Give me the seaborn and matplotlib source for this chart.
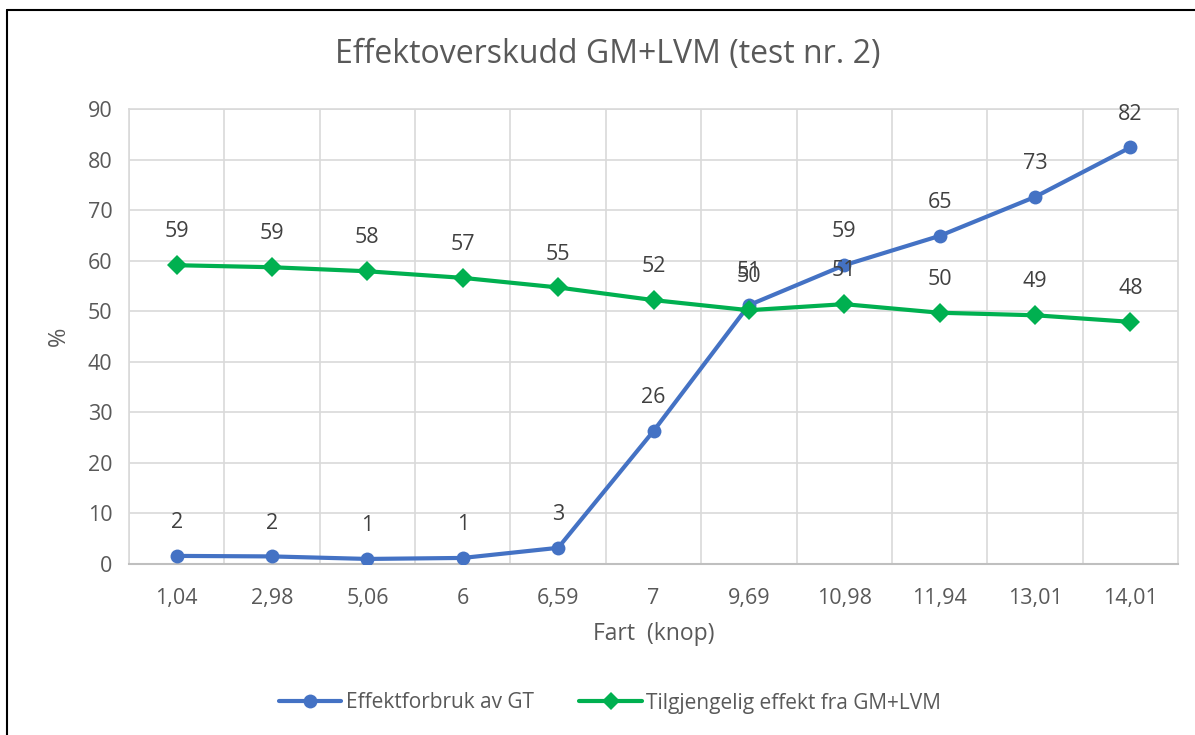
import matplotlib
matplotlib.use("Agg")
import matplotlib.pyplot as plt
import seaborn as sns
import pandas as pd
from matplotlib.lines import Line2D

speeds = ["1,04", "2,98", "5,06", "6", "6,59", "7", "9,69", "10,98", "11,94", "13,01", "14,01"]
gt_use = [1.6, 1.5, 1.0, 1.2, 3.2, 26.3, 51.2, 59.1, 64.9, 72.6, 82.4]
gm_avail = [59.1, 58.7, 57.9, 56.6, 54.7, 52.2, 50.2, 51.4, 49.7, 49.2, 47.9]
series_names = ["Effektforbruk av GT", "Tilgjengelig effekt fra GM+LVM"]

sns.set_theme(style="white")
plt.rcParams["font.family"] = ["Open Sans", "DejaVu Sans"]

W, H = 1195, 735
fig = plt.figure(figsize=(W / 100, H / 100), dpi=100)
ax = fig.add_axes([129 / W, 1 - 564 / H, (1178 - 129) / W, (564 - 109) / H])

pos = list(range(len(speeds)))
df = pd.DataFrame({
    "pos": pos * 2,
    "val": gt_use + gm_avail,
    "serie": [series_names[0]] * len(speeds) + [series_names[1]] * len(speeds),
})
blue, green = "#4472C4", "#00B050"
sns.lineplot(data=df, x="pos", y="val", hue="serie", style="serie",
             palette=[blue, green], markers=["o", "D"], dashes=False,
             markersize=10, markeredgewidth=0, linewidth=3, ax=ax, legend=False,
             zorder=3)

ax.set_xlim(-0.5, len(speeds) - 0.5)
ax.set_ylim(0, 90)
ax.set_yticks(range(0, 91, 10))
ax.set_xticks(pos)
ax.set_xticklabels(speeds)
ax.set_xticks([p + 0.5 for p in pos[:-1]] + [-0.5], minor=True)
ax.grid(True, which="minor", axis="x", color="#D9D9D9", linewidth=1.2)
ax.grid(True, which="major", axis="y", color="#D9D9D9", linewidth=1.2)
ax.grid(False, which="major", axis="x")
ax.set_axisbelow(True)
for s in ["top", "right", "left"]:
    ax.spines[s].set_color("#D9D9D9")
    ax.spines[s].set_linewidth(1.2)
ax.spines["bottom"].set_color("#BFBFBF")
ax.spines["bottom"].set_linewidth(1.5)
ax.tick_params(axis="both", which="both", length=0, labelsize=15.5, labelcolor="#595959")
ax.tick_params(axis="x", pad=17)
ax.tick_params(axis="y", pad=12)

ax.set_xlabel("Fart  (knop)", fontsize=16.5, color="#595959", labelpad=10)
ax.set_ylabel("%", fontsize=17, color="#595959", labelpad=12)

for vals in (gt_use, gm_avail):
    for p, v in zip(pos, vals):
        ax.annotate(f"{v:.0f}", (p, v), xytext=(0, 24), textcoords="offset points",
                    ha="center", va="center", fontsize=15.5, color="#404040", zorder=4)

fig.text(608 / W, 1 - 55 / H, "Effektoverskudd GM+LVM (test nr. 2)", ha="center",
         va="center", fontsize=23, color="#595959")

handles = [
    Line2D([0], [0], color=blue, lw=3, marker="o", markersize=10, markeredgewidth=0),
    Line2D([0], [0], color=green, lw=3, marker="D", markersize=9, markeredgewidth=0),
]
fig.legend(handles, series_names, loc="center", bbox_to_anchor=(610 / W, 1 - 703 / H),
           ncol=2, frameon=False, fontsize=15, handlelength=3.0, handletextpad=0.2,
           columnspacing=2.2, labelcolor="#595959")

fig.add_artist(Line2D([7 / W, 7 / W], [0, 1 - 10 / H], color="black", lw=1.5,
                      transform=fig.transFigure))
fig.add_artist(Line2D([7 / W, 1], [1 - 10 / H, 1 - 10 / H], color="black", lw=1.5,
                      transform=fig.transFigure))

fig.savefig("out.png", dpi=100)
